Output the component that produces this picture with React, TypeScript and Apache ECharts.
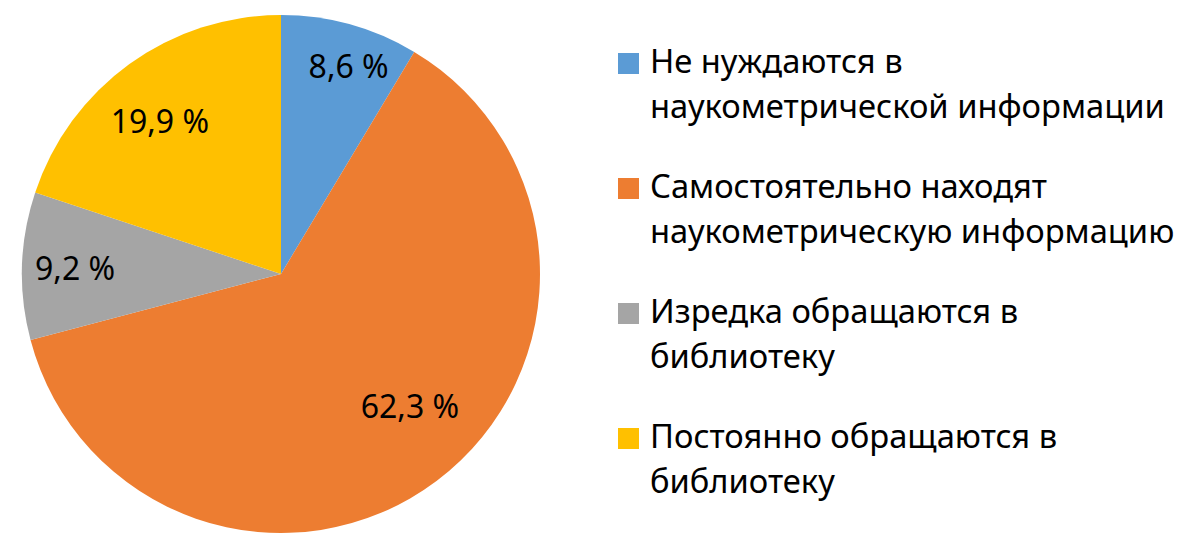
import React, { useEffect, useRef } from "react";
import * as echarts from "echarts";

const categories = [
  "Не нуждаются в\nнаукометрической информации",
  "Самостоятельно находят\nнаукометрическую информацию",
  "Изредка обращаются в\nбиблиотеку",
  "Постоянно обращаются в\nбиблиотеку",
];
const values = [8.6, 62.3, 9.2, 19.9];
const colors = ["#5B9BD5", "#ED7D31", "#A5A5A5", "#FFC000"];

// label placement (layout only): distance from centre along the slice's mid-angle, and padding nudge
const labelRadii = [213, 161, 203, 186];
const labelPads = [
  [0, 0, 0, 20],
  [0, 0, 0, 61],
  [0, 0, 0, 0],
  [0, 21, 0, 0],
];

const FONT = "Noto Sans";
const CENTER = [281, 274];
const R = 259;

export default function App() {
  const ref = useRef<HTMLDivElement>(null);
  useEffect(() => {
    document.body.style.margin = "0";
    const chart = echarts.init(ref.current!, null, { renderer: "svg" });
    const data = categories.map((name, i) => ({
      name,
      value: values[i],
      itemStyle: { color: colors[i] },
    }));
    const labelSeries = categories.map((_, k) => ({
      type: "pie",
      center: CENTER,
      radius: [2 * labelRadii[k] - R, R],
      startAngle: 90,
      clockwise: true,
      silent: true,
      itemStyle: { borderWidth: 0, color: "rgba(0,0,0,0)" },
      labelLine: { show: false },
      data: categories.map((name, i) => ({
        name,
        value: values[i],
        itemStyle: { color: "rgba(0,0,0,0)" },
        label:
          i === k
            ? { show: true, padding: labelPads[i] }
            : { show: false },
      })),
      label: {
        position: "inside",
        rotate: 0,
        formatter: (p: any) => String(p.value).replace(".", ",") + " %",
        fontFamily: FONT,
        fontSize: 32,
        color: "#000",
      },
    }));
    chart.setOption({
      animation: false,
      color: colors,
      legend: {
        orient: "vertical",
        left: 618,
        top: 38,
        padding: 0,
        itemWidth: 27,
        itemHeight: 90,
        itemGap: 35,
        icon: "path://M0,0h0.01v0.01h-0.01z M0,15h21v21h-21z M27,90h0.01v0.01h-0.01z",
        data: categories,
        textStyle: {
          fontFamily: FONT,
          fontSize: 32.7,
          lineHeight: 45,
          color: "#000",
        },
        selectedMode: false,
      },
      series: [
        {
          type: "pie",
          center: CENTER,
          radius: [0, R],
          startAngle: 90,
          clockwise: true,
          data,
          label: { show: false },
          labelLine: { show: false },
          itemStyle: { borderWidth: 0 },
          silent: true,
        },
        ...labelSeries,
      ],
    });
    return () => chart.dispose();
  }, []);
  return <div ref={ref} style={{ width: 1193, height: 551 }} />;
}
